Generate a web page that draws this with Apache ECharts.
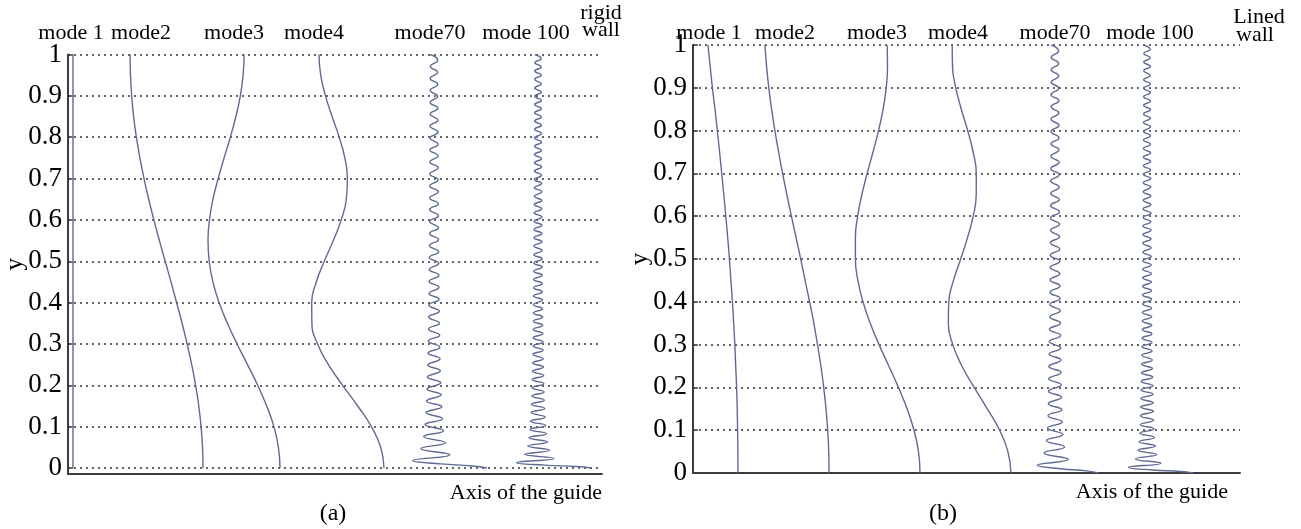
<!DOCTYPE html>
<html><head><meta charset="utf-8">
<script src="https://cdn.jsdelivr.net/npm/echarts@6/dist/echarts.min.js"></script>
<style>html,body{margin:0;padding:0;background:#fff}#c{width:1301px;height:529px}</style>
</head><body><div id="c"></div>
<script>
// ---------- data ----------
const yTicks = [0, 0.1, 0.2, 0.3, 0.4, 0.5, 0.6, 0.7, 0.8, 0.9, 1];
const yLow = [0, 0.05, 0.1, 0.15, 0.2, 0.25, 0.3, 0.35, 0.4, 0.45, 0.5, 0.55, 0.6, 0.65, 0.7, 0.75, 0.8, 0.85, 0.9, 0.95, 1];

// panel (a) rigid wall: horizontal position of each mode shape (arbitrary units)
const aMode1 = [5, 5, 5, 5, 5, 5, 5, 5, 5, 5, 5, 5, 5, 5, 5, 5, 5, 5, 5, 5, 5];
const aMode2 = [135, 134.5, 133.1, 130.8, 127.6, 123.7, 119.1, 114.1, 108.6, 103, 97.2, 91.4, 85.9, 80.7, 76, 71.9, 68.4, 65.6, 63.7, 62.5, 62.1];
const aMode3 = [212, 210.4, 205.9, 198.7, 189.7, 179.5, 169.1, 159.4, 151.1, 144.9, 141.2, 140, 141.5, 145, 150.2, 156.1, 162.3, 167.9, 172.3, 175.1, 176.1];
const aMode4 = [316, 312.7, 303.4, 289.7, 274.6, 260.4, 249.6, 243.9, 243.7, 248.3, 256.3, 265.3, 273.2, 278.3, 279.4, 276.8, 271.2, 264.1, 257.5, 252.7, 251];

// panel (b) lined wall
const bMode1 = [45, 44.9, 44.6, 44.2, 43.6, 42.7, 41.8, 40.7, 39.4, 37.9, 36.4, 34.7, 32.8, 30.8, 28.7, 26.6, 24.3, 22, 19.4, 17.2, 14.9];
const bMode2 = [136, 135.7, 134.7, 133, 130.7, 127.9, 124.5, 120.8, 116.6, 112.1, 107.7, 103.1, 98.4, 93.9, 89.6, 85.6, 81.9, 78.6, 75.8, 73.6, 71.9];
const bMode3 = [227, 225.5, 221, 214.1, 205.4, 195.8, 186.1, 177.2, 170, 164.9, 162.4, 162.4, 164.7, 168.8, 174.2, 180, 185.5, 190.1, 193.2, 194.5, 194.1];
const bMode4 = [317.9, 314.9, 306.6, 294.3, 281.2, 268.9, 259.8, 255.3, 255.8, 260.5, 267.7, 274.5, 280.2, 283.2, 283.3, 280.1, 274.7, 268.3, 262.8, 259.5, 259.2];

// high-order modes: heights of the turning points
const y70 = [0, 0.005, 0.01, 0.018, 0.032, 0.047, 0.061, 0.076, 0.090, 0.105, 0.119, 0.134, 0.148, 0.162, 0.177, 0.191, 0.206, 0.220, 0.235, 0.249, 0.264, 0.278, 0.292, 0.307, 0.321, 0.336, 0.350, 0.365, 0.379, 0.394, 0.408, 0.422, 0.437, 0.451, 0.466, 0.480, 0.495, 0.509, 0.523, 0.538, 0.552, 0.567, 0.581, 0.596, 0.610, 0.625, 0.639, 0.653, 0.668, 0.682, 0.697, 0.711, 0.726, 0.740, 0.755, 0.769, 0.783, 0.798, 0.812, 0.827, 0.841, 0.856, 0.870, 0.884, 0.899, 0.913, 0.928, 0.942, 0.957, 0.971, 0.986, 1.000];
const y100 = [0, 0.0035, 0.007, 0.013, 0.023, 0.033, 0.043, 0.053, 0.063, 0.073, 0.083, 0.093, 0.103, 0.113, 0.123, 0.134, 0.144, 0.154, 0.164, 0.174, 0.184, 0.194, 0.204, 0.214, 0.224, 0.234, 0.244, 0.254, 0.264, 0.275, 0.285, 0.295, 0.305, 0.315, 0.325, 0.335, 0.345, 0.355, 0.365, 0.375, 0.385, 0.395, 0.406, 0.416, 0.426, 0.436, 0.446, 0.456, 0.466, 0.476, 0.486, 0.496, 0.506, 0.516, 0.526, 0.537, 0.547, 0.557, 0.567, 0.577, 0.587, 0.597, 0.607, 0.617, 0.627, 0.637, 0.647, 0.657, 0.668, 0.678, 0.688, 0.698, 0.708, 0.718, 0.728, 0.738, 0.748, 0.758, 0.768, 0.778, 0.788, 0.798, 0.809, 0.819, 0.829, 0.839, 0.849, 0.859, 0.869, 0.879, 0.889, 0.899, 0.909, 0.919, 0.929, 0.940, 0.950, 0.960, 0.970, 0.980, 0.990, 1.000];

const aMode70Center = 366;
const aMode70 = [53, 38.4, 6.6,
  -21.3, 15.9, -13.2, 11.6, -10.4, 9.6, -9.0, 8.5, -8.1, 7.8,
  -7.5, 7.2, -7.0, 6.8, -6.6, 6.4, -6.2, 6.1, -6.0, 5.9,
  -5.8, 5.7, -5.6, 5.5, -5.4, 5.3, -5.2, 5.1, -5.0, 5.0,
  -4.9, 4.9, -4.8, 4.8, -4.7, 4.7, -4.6, 4.6, -4.5, 4.5,
  -4.5, 4.4, -4.4, 4.4, -4.3, 4.3, -4.3, 4.2, -4.2, 4.2,
  -4.1, 4.1, -4.1, 4.0, -4.0, 4.0, -4.0, 3.9, -3.9, 3.9,
  -3.9, 3.8, -3.8, 3.8, -3.8, 3.7, -3.7, 3.7, -3.7];
const aMode100Center = 470;
const aMode100 = [53, 38.4, 6.4,
  -21.3, 15.9, -13.2, 11.6, -10.4, 9.6, -9.0, 8.5, -8.1, 7.8,
  -7.5, 7.2, -7.0, 6.8, -6.6, 6.4, -6.2, 6.1, -6.0, 5.9,
  -5.8, 5.7, -5.6, 5.5, -5.4, 5.3, -5.2, 5.1, -5.0, 5.0,
  -4.9, 4.9, -4.8, 4.8, -4.7, 4.7, -4.6, 4.6, -4.5, 4.5,
  -4.5, 4.4, -4.4, 4.4, -4.3, 4.3, -4.3, 4.2, -4.2, 4.2,
  -4.1, 4.1, -4.1, 4.0, -4.0, 4.0, -4.0, 3.9, -3.9, 3.9,
  -3.9, 3.8, -3.8, 3.8, -3.8, 3.7, -3.7, 3.7, -3.7, 3.6,
  -3.6, 3.6, -3.6, 3.6, -3.6, 3.5, -3.5, 3.5, -3.5, 3.5,
  -3.5, 3.4, -3.4, 3.4, -3.4, 3.4, -3.4, 3.4, -3.3, 3.3,
  -3.3, 3.3, -3.3, 3.3, -3.3, 3.2, -3.2, 3.2, -3.2];

const bMode70Center = 362;
const bMode70 = [44, 31.9, 5.5,
  -17.7, 13.2, -11.0, 9.6, -8.6, 8.0, -7.5, 7.2, -7.0, 6.8,
  -6.7, 6.6, -6.5, 6.4, -6.3, 6.2, -6.1, 6.0, -5.9, 5.8,
  -5.8, 5.7, -5.6, 5.5, -5.4, 5.3, -5.2, 5.1, -5.0, 5.0,
  -4.9, 4.9, -4.8, 4.8, -4.7, 4.7, -4.6, 4.6, -4.5, 4.5,
  -4.5, 4.4, -4.4, 4.4, -4.3, 4.3, -4.3, 4.2, -4.2, 4.2,
  -4.1, 4.1, -4.1, 4.0, -4.0, 4.0, -4.0, 3.9, -3.9, 3.9,
  -3.9, 3.8, -3.8, 3.8, -3.8, 3.7, -3.7, 3.7, -3.7];
const bMode100Center = 454;
const bMode100 = [46, 33.3, 5.5,
  -18.5, 13.8, -11.5, 10.0, -9.0, 8.4, -7.9, 7.5, -7.2, 7.0,
  -6.8, 6.7, -6.6, 6.5, -6.4, 6.3, -6.2, 6.1, -6.0, 5.9,
  -5.8, 5.7, -5.6, 5.5, -5.4, 5.3, -5.2, 5.1, -5.0, 5.0,
  -4.9, 4.9, -4.8, 4.8, -4.7, 4.7, -4.6, 4.6, -4.5, 4.5,
  -4.5, 4.4, -4.4, 4.4, -4.3, 4.3, -4.3, 4.2, -4.2, 4.2,
  -4.1, 4.1, -4.1, 4.0, -4.0, 4.0, -4.0, 3.9, -3.9, 3.9,
  -3.9, 3.8, -3.8, 3.8, -3.8, 3.7, -3.7, 3.7, -3.7, 3.6,
  -3.6, 3.6, -3.6, 3.6, -3.6, 3.5, -3.5, 3.5, -3.5, 3.5,
  -3.5, 3.4, -3.4, 3.4, -3.4, 3.4, -3.4, 3.4, -3.3, 3.3,
  -3.3, 3.3, -3.3, 3.3, -3.3, 3.2, -3.2, 3.2, -3.2];

const modeNames = ['mode 1', 'mode2', 'mode3', 'mode4', 'mode70', 'mode 100'];

// ---------- chart ----------
const FONT = '"Liberation Serif", "Times New Roman", serif';
const CURVE = '#5f6a94';
const AXIS = '#3c3c3c';
const chart = echarts.init(document.getElementById('c'));

function lowSeries(xs, gi) {
  return { type: 'line', xAxisIndex: gi, yAxisIndex: gi, data: yLow.map((y, i) => [xs[i], y]),
    showSymbol: false, smooth: true, silent: true, lineStyle: { color: CURVE, width: 1.4 } };
}
function highSeries(center, disp, ys, gi) {
  return { type: 'line', xAxisIndex: gi, yAxisIndex: gi, data: ys.map((y, i) => [center + disp[i], y]),
    showSymbol: false, smooth: true, silent: true, lineStyle: { color: CURVE, width: 1.4 } };
}
function xAx(gi, max, gap) {
  return { gridIndex: gi, type: 'value', min: 0, max: max,
    axisLine: { show: true, onZero: false, lineStyle: { color: AXIS, width: 2 } },
    axisTick: { show: false }, axisLabel: { show: false }, splitLine: { show: false },
    name: 'Axis of the guide', nameLocation: 'end', nameGap: gap, nameMoveOverlap: false,
    nameTextStyle: { fontFamily: FONT, fontSize: 22, color: '#000', align: 'right', verticalAlign: 'top', padding: [8, 0, 0, 0] } };
}
function yAx(gi, min) {
  return { gridIndex: gi, type: 'value', min: min, max: 1,
    axisLine: { show: true, onZero: false, lineStyle: { color: AXIS, width: 2 } },
    axisTick: { show: true, inside: true, length: 5, customValues: yTicks, lineStyle: { color: AXIS, width: 1.5 } },
    axisLabel: { customValues: yTicks, fontFamily: FONT, fontSize: 27, color: '#000', margin: 6 },
    splitLine: { show: true, lineStyle: { type: [2, 4], color: '#333', width: 1.5 } },
    name: 'y', nameLocation: 'middle', nameGap: 40, nameRotate: 90, nameMoveOverlap: false,
    nameTextStyle: { fontFamily: FONT, fontSize: 25, color: '#000' } };
}
function txt(t, x, y, size) {
  return { type: 'text', x: x, y: y, silent: true,
    style: { text: t, font: (size || 22) + 'px ' + FONT, fill: '#000', align: 'center', verticalAlign: 'middle' } };
}

const labelXA = [71, 141, 234, 314, 430, 526];
const labelXB = [709, 785, 877, 958, 1055, 1150];

chart.setOption({
  animation: false,
  grid: [
    { left: 68, top: 54.5, width: 534, height: 419.5, outerBoundsMode: 'none', containLabel: false },
    { left: 693, top: 45, width: 547, height: 428, outerBoundsMode: 'none', containLabel: false }
  ],
  xAxis: [xAx(0, 534, 0), xAx(1, 547, -12)],
  yAxis: [yAx(0, -0.0145), yAx(1, 0)],
  series: [
    lowSeries(aMode1, 0), lowSeries(aMode2, 0), lowSeries(aMode3, 0), lowSeries(aMode4, 0),
    highSeries(aMode70Center, aMode70, y70, 0), highSeries(aMode100Center, aMode100, y100, 0),
    lowSeries(bMode1, 1), lowSeries(bMode2, 1), lowSeries(bMode3, 1), lowSeries(bMode4, 1),
    highSeries(bMode70Center, bMode70, y70, 1), highSeries(bMode100Center, bMode100, y100, 1)
  ],
  graphic: [].concat(
    modeNames.map((n, i) => txt(n, labelXA[i], 33)),
    modeNames.map((n, i) => txt(n, labelXB[i], 33)),
    [txt('rigid', 601, 13), txt('wall', 601, 30), txt('Lined', 1259, 17), txt('wall', 1255, 35),
     txt('(a)', 333, 514, 24), txt('(b)', 943, 514, 24)]
  )
});
</script></body></html>
